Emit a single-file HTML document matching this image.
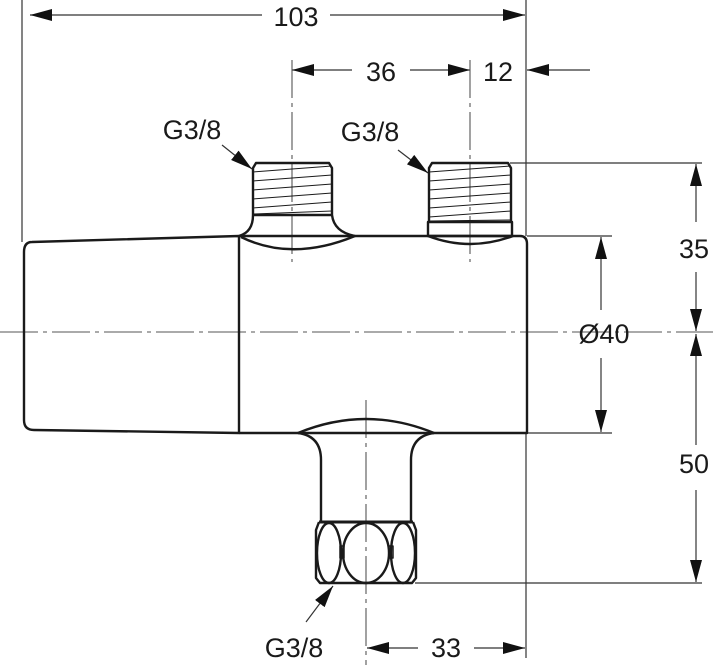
<!DOCTYPE html>
<html><head><meta charset="utf-8"><style>
html,body{margin:0;padding:0;background:#fff;}
svg{display:block;}
text{font-family:"Liberation Sans",sans-serif;fill:#1a1a1a;}
</style></head><body>
<svg width="713" height="668" viewBox="0 0 713 668" xmlns="http://www.w3.org/2000/svg">
<defs>
<marker id="a" viewBox="0 0 22 12" refX="22" refY="6" markerWidth="22" markerHeight="12" markerUnits="userSpaceOnUse" orient="auto"><path d="M0,0 L22,6 L0,12 Z" fill="#111"/></marker>
</defs>
<g stroke="#333" stroke-width="1.2" fill="none">
<line x1="22" y1="0" x2="22" y2="242"/>
<line x1="526" y1="0" x2="526" y2="236"/>
<line x1="526" y1="433" x2="526" y2="658"/>
<line x1="510" y1="163" x2="702" y2="163"/>
<line x1="527" y1="236" x2="612" y2="236"/>
<line x1="527" y1="433" x2="612" y2="433"/>
<line x1="415" y1="583" x2="702" y2="583"/>
<line x1="262" y1="15" x2="30" y2="15" marker-end="url(#a)"/>
<line x1="330" y1="15" x2="525" y2="15" marker-end="url(#a)"/>
<line x1="352" y1="70" x2="292" y2="70" marker-end="url(#a)"/>
<line x1="410" y1="70" x2="470" y2="70" marker-end="url(#a)"/>
<line x1="590" y1="70" x2="527" y2="70" marker-end="url(#a)"/>
<line x1="696" y1="222" x2="696" y2="164" marker-end="url(#a)"/>
<line x1="696" y1="272" x2="696" y2="331" marker-end="url(#a)"/>
<line x1="696" y1="445" x2="696" y2="334" marker-end="url(#a)"/>
<line x1="696" y1="490" x2="696" y2="582" marker-end="url(#a)"/>
<line x1="601" y1="310" x2="601" y2="237" marker-end="url(#a)"/>
<line x1="601" y1="358" x2="601" y2="432" marker-end="url(#a)"/>
<line x1="418" y1="648" x2="367" y2="648" marker-end="url(#a)"/>
<line x1="474" y1="648" x2="525" y2="648" marker-end="url(#a)"/>
<line x1="222" y1="145" x2="252" y2="169" marker-end="url(#a)"/>
<line x1="398" y1="150" x2="428" y2="173" marker-end="url(#a)"/>
<line x1="306" y1="622" x2="333" y2="586" marker-end="url(#a)"/>
</g>
<g stroke="#555" stroke-width="1.1" fill="none" stroke-dasharray="38,5,4,5">
<line x1="0" y1="332" x2="713" y2="332"/>
<line x1="292" y1="60" x2="292" y2="262"/>
<line x1="470" y1="60" x2="470" y2="262"/>
<line x1="366" y1="400" x2="366" y2="665"/>
</g>
<g stroke="#1a1a1a" stroke-width="2.4" fill="none" stroke-linejoin="round">
<path d="M239,236 L32,242 Q24,242 24,252 L24,420 Q24,430 34,430 L239,433 Z"/>
<path d="M239,236 L520,236 Q527,236 527,244 L527,433 L239,433"/>
<path d="M239,236 Q253,232 253,215 L253,168 L256,163 L329,163 L332,168 L332,215 Q334,232 355,236"/>
<line x1="253" y1="215" x2="332" y2="215"/>
<path d="M241,237 Q292,262 355,236"/>
<path d="M429,222 L429,168 L432,163 L508,163 L511,168 L511,222"/>
<rect x="428" y="222" width="84" height="14"/>
<path d="M428,236 Q470,252 513,236"/>
<path d="M298,433 Q366,405 434,433"/>
<path d="M298,433 Q321,436 321,460 L321,522"/>
<path d="M434,433 Q411,436 411,460 L411,522"/>
<line x1="319" y1="522" x2="413" y2="522" stroke-width="3"/>
<path d="M319,522 L316,530 L316,578 L320,583 L412,583 L416,578 L416,530 L413,522"/>
<ellipse cx="329" cy="553" rx="12" ry="30"/>
<ellipse cx="366" cy="553" rx="23" ry="30"/>
<ellipse cx="403" cy="553" rx="12" ry="30"/>
<rect x="340" y="546" width="4" height="12" stroke-width="1.5"/>
<rect x="389" y="546" width="4" height="12" stroke-width="1.5"/>
</g>
<g stroke="#1a1a1a" stroke-width="1" fill="none">
<line x1="253" y1="172" x2="332" y2="166"/><line x1="253" y1="181" x2="332" y2="175"/>
<line x1="253" y1="190" x2="332" y2="184"/><line x1="253" y1="199" x2="332" y2="193"/>
<line x1="253" y1="208" x2="332" y2="202"/><line x1="253" y1="214" x2="332" y2="211"/>
<line x1="429" y1="172" x2="511" y2="166"/><line x1="429" y1="181" x2="511" y2="175"/>
<line x1="429" y1="190" x2="511" y2="184"/><line x1="429" y1="199" x2="511" y2="193"/>
<line x1="429" y1="208" x2="511" y2="202"/><line x1="429" y1="217" x2="511" y2="211"/>
<line x1="429" y1="221" x2="511" y2="220"/>
</g>
<g font-size="27">
<text x="296" y="26" text-anchor="middle">103</text>
<text x="381" y="81" text-anchor="middle">36</text>
<text x="498" y="81" text-anchor="middle">12</text>
<text x="694" y="258" text-anchor="middle">35</text>
<text x="604" y="343" text-anchor="middle">Ø40</text>
<text x="694" y="473" text-anchor="middle">50</text>
<text x="446" y="657" text-anchor="middle">33</text>
<text x="192" y="139" text-anchor="middle">G3/8</text>
<text x="370" y="141" text-anchor="middle">G3/8</text>
<text x="294" y="657" text-anchor="middle">G3/8</text>
</g>
</svg>
</body></html>
